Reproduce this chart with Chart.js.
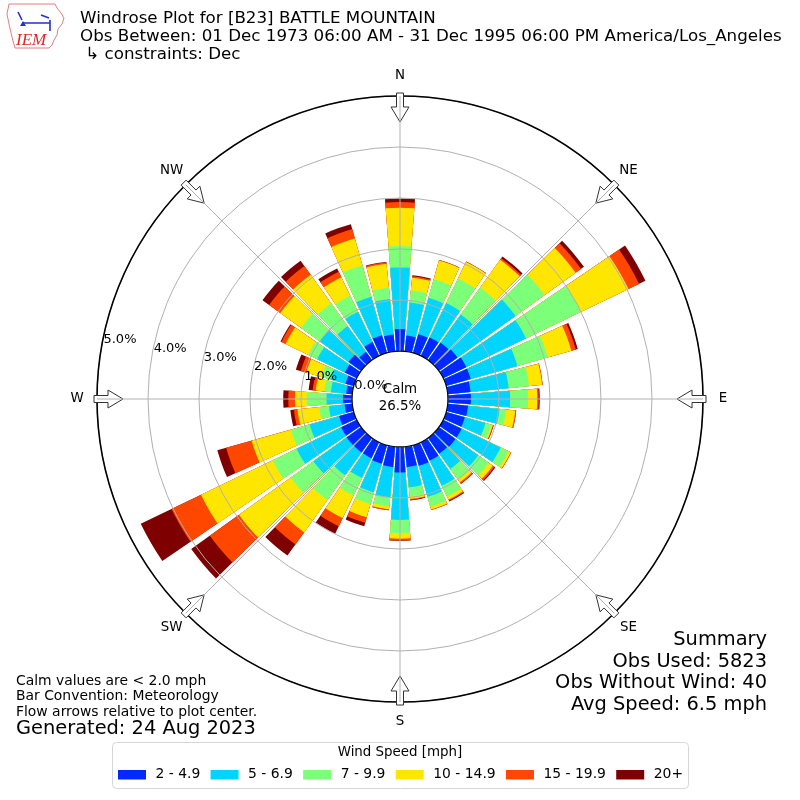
<!DOCTYPE html>
<html>
<head>
<meta charset="utf-8">
<script src="https://cdn.jsdelivr.net/npm/chart.js@4.4.0/dist/chart.umd.min.js"></script>
<style>
  html, body { margin: 0; padding: 0; background: #fff; }
  #wrap { width: 800px; height: 800px; position: relative; }
</style>
</head>
<body>
<div id="wrap"><canvas id="rose" width="800" height="800"></canvas></div>
<script>
// direction of each bar, degrees clockwise from north
const directions = [0, 10, 20, 30, 40, 50, 60, 70, 80, 90, 100, 110, 120, 130, 140, 150, 160, 170,
  180, 190, 200, 210, 220, 230, 240, 250, 260, 270, 280, 290, 300, 310, 320, 330, 340, 350];

const speedBins = ['2 - 4.9', '5 - 6.9', '7 - 9.9', '10 - 14.9', '15 - 19.9', '20+'];
const binColors = ['#0028ff', '#00d4ff', '#7cff79', '#ffe600', '#ff4700', '#7f0000'];

// frequency (%) per direction, one list per speed bin
const freq2to5 = [0.43, 0.31, 0.38, 0.40, 0.42, 0.45, 0.50, 0.50, 0.45, 0.45, 0.40, 0.38,
  0.40, 0.40, 0.38, 0.40, 0.42, 0.40, 0.50, 0.40, 0.38, 0.35, 0.35, 0.35,
  0.34, 0.30, 0.15, 0.18, 0.12, 0.17, 0.26, 0.30, 0.20, 0.30, 0.36, 0.33];
const freq5to7 = [1.21, 0.65, 0.74, 0.75, 0.68, 1.40, 1.30, 0.95, 0.75, 0.77, 0.62, 0.42,
  0.85, 0.55, 0.37, 0.55, 0.63, 0.40, 0.93, 0.60, 0.58, 0.43, 0.55, 0.80,
  0.97, 0.60, 0.31, 0.32, 0.30, 0.31, 0.60, 0.70, 0.62, 0.66, 0.78, 0.70];
const freq7to10 = [0.42, 0.24, 0.38, 0.53, 0.65, 0.70, 1.20, 0.62, 0.40, 0.35, 0.13, 0.12,
  0.17, 0.25, 0.25, 0.23, 0.20, 0.18, 0.26, 0.17, 0.24, 0.38, 0.60, 0.55,
  0.52, 0.38, 0.19, 0.39, 0.13, 0.18, 0.20, 0.45, 0.55, 0.35, 0.64, 0.22];
const freq10to15 = [0.75, 0.25, 0.38, 0.36, 0.67, 0.75, 1.03, 0.48, 0.26, 0.18, 0.18, 0.03,
  0.05, 0.10, 0.07, 0.07, 0.06, 0.05, 0.11, 0.06, 0.27, 0.49, 0.78, 1.25,
  1.56, 0.80, 0.43, 0.23, 0.17, 0.31, 0.49, 0.50, 0.69, 0.40, 0.55, 0.47];
const freq15to20 = [0.11, 0.03, 0.01, 0.01, 0.04, 0.13, 0.23, 0.09, 0.01, 0.03, 0.02, 0.01,
  0.01, 0.04, 0.03, 0.02, 0.01, 0.02, 0.03, 0.02, 0.11, 0.18, 0.29, 0.70,
  0.64, 0.52, 0.07, 0.13, 0.06, 0.11, 0.09, 0.27, 0.21, 0.12, 0.19, 0.03];
const freq20plus = [0.07, 0.02, 0.00, 0.00, 0.04, 0.07, 0.14, 0.04, 0.00, 0.02, 0.00, 0.01,
  0.00, 0.02, 0.01, 0.02, 0.00, 0.01, 0.01, 0.00, 0.07, 0.16, 0.27, 0.45,
  0.67, 0.18, 0.07, 0.10, 0.08, 0.10, 0.02, 0.16, 0.13, 0.07, 0.10, 0.01];

const rTicks = [0, 1, 2, 3, 4, 5];
const compassNames = ['N', 'NE', 'E', 'SE', 'S', 'SW', 'W', 'NW'];
const calmPct = '26.5%';

const titleLines = [
  'Windrose Plot for [B23] BATTLE MOUNTAIN',
  'Obs Between: 01 Dec 1973 06:00 AM - 31 Dec 1995 06:00 PM America/Los_Angeles',
  ' \u21b3 constraints: Dec'
];
const noteLines = ['Calm values are < 2.0 mph', 'Bar Convention: Meteorology', 'Flow arrows relative to plot center.'];
const generatedLine = 'Generated: 24 Aug 2023';
const summaryLines = ['Summary', 'Obs Used: 5823', 'Obs Without Wind: 40', 'Avg Speed: 6.5 mph'];

const BAR_DEG = 8.6;            // angular width of a bar, the rest of the 10 degrees is gap
const R_MIN = -0.94;            // leaves room for the calm circle inside 0%
const FONT = '"DejaVu Sans", sans-serif';

// stacked totals: each speed bin is drawn as an arc reaching the running sum
const binFreqs = [freq2to5, freq5to7, freq7to10, freq10to15, freq15to20, freq20plus];
const stacked = binFreqs.map((_, b) => directions.map((_, d) => {
  let s = 0;
  for (let k = 0; k <= b; k++) s += binFreqs[k][d];
  return s;
}));

// every direction gets a bar slot and a thin empty gap slot after it
const slotLabels = [];
directions.forEach(d => { slotLabels.push(d + '°'); slotLabels.push(''); });

const datasets = speedBins.map((name, b) => ({
  label: name,
  data: stacked[b].flatMap(v => [v, 0]),
  backgroundColor: c => (c.dataIndex % 2 ? 'rgba(0,0,0,0)' : binColors[b]),
  borderWidth: 0,
  angle: c => (c.dataIndex % 2 ? 10 - BAR_DEG : BAR_DEG)
}));

function drawLogo(ctx) {
  ctx.save();
  const outline = [[9, 4], [55, 4], [57, 8], [61, 13], [64, 18], [62, 24], [58, 29], [57, 35],
    [54, 40], [52, 45], [49, 48], [15, 48], [13, 41], [11, 33], [9, 24], [7, 14]];
  ctx.beginPath();
  outline.forEach(([x, y], i) => (i ? ctx.lineTo(x, y) : ctx.moveTo(x, y)));
  ctx.closePath();
  ctx.strokeStyle = '#e08080';
  ctx.lineWidth = 1;
  ctx.stroke();
  ctx.strokeStyle = '#2233cc';
  ctx.fillStyle = '#2233cc';
  ctx.lineWidth = 1.6;
  ctx.beginPath();
  ctx.moveTo(18, 12); ctx.lineTo(22, 20);
  ctx.moveTo(22, 23); ctx.lineTo(50, 23);
  ctx.moveTo(50, 20); ctx.lineTo(50, 31);
  ctx.moveTo(41, 15); ctx.lineTo(49, 18);
  ctx.stroke();
  ctx.beginPath();
  ctx.moveTo(20, 26); ctx.lineTo(23, 21); ctx.lineTo(26, 26); ctx.closePath();
  ctx.fill();
  ctx.fillStyle = '#d42a2a';
  ctx.font = 'italic 17px "Liberation Serif", serif';
  ctx.textAlign = 'left';
  ctx.textBaseline = 'alphabetic';
  ctx.fillText('IEM', 16, 45);
  ctx.restore();
}

const windroseDecor = {
  id: 'windroseDecor',
  afterDraw(chart) {
    const ctx = chart.ctx;
    const r = chart.scales.r;
    const cx = r.xCenter, cy = r.yCenter;
    const r0 = r.getDistanceFromCenterForValue(0);
    const rOut = r.drawingArea;
    const pt = (deg, d) => [cx + d * Math.sin(deg * Math.PI / 180), cy - d * Math.cos(deg * Math.PI / 180)];

    ctx.save();
    // outer frame
    ctx.beginPath();
    ctx.arc(cx, cy, rOut, 0, Math.PI * 2);
    ctx.strokeStyle = '#000';
    ctx.lineWidth = 1.6;
    ctx.stroke();

    // flow arrows on the frame, pointing to the centre
    compassNames.forEach((_, i) => {
      const deg = i * 45;
      const ux = Math.sin(deg * Math.PI / 180), uy = -Math.cos(deg * Math.PI / 180);
      const px = -uy, py = ux;
      const P = (d, w) => [cx + ux * d + px * w, cy + uy * d + py * w];
      const tail = rOut + 3, neck = rOut - 11, tip = rOut - 26;
      const poly = [P(tail, -3.5), P(tail, 3.5), P(neck, 3.5), P(neck, 9), P(tip, 0), P(neck, -9), P(neck, -3.5)];
      ctx.beginPath();
      poly.forEach(([x, y], k) => (k ? ctx.lineTo(x, y) : ctx.moveTo(x, y)));
      ctx.closePath();
      ctx.fillStyle = '#fff';
      ctx.fill();
      ctx.strokeStyle = '#333';
      ctx.lineWidth = 1;
      ctx.stroke();
    });

    // spokes every 45 degrees
    ctx.strokeStyle = '#b0b0b0';
    ctx.lineWidth = 1;
    compassNames.forEach((_, i) => {
      const a = pt(i * 45, r0), b = pt(i * 45, rOut);
      ctx.beginPath();
      ctx.moveTo(a[0], a[1]);
      ctx.lineTo(b[0], b[1]);
      ctx.stroke();
    });

    // calm circle
    ctx.beginPath();
    ctx.arc(cx, cy, r0, 0, Math.PI * 2);
    ctx.fillStyle = '#fff';
    ctx.fill();
    ctx.strokeStyle = '#000';
    ctx.lineWidth = 1.2;
    ctx.stroke();

    ctx.fillStyle = '#000';
    ctx.textAlign = 'center';
    ctx.textBaseline = 'middle';
    ctx.font = '13.4px ' + FONT;
    ctx.fillText('Calm', cx, cy - 9);
    ctx.fillText(calmPct, cx, cy + 8);

    // radial labels, laid along a line just above west
    ctx.font = '13px ' + FONT;
    const la = 10.4 * Math.PI / 180;
    rTicks.forEach(v => {
      const d = r.getDistanceFromCenterForValue(v);
      ctx.fillText(v.toFixed(1) + '%', cx - d * Math.cos(la) + 18, cy - d * Math.sin(la) - 5);
    });

    // compass names
    ctx.font = '13.4px ' + FONT;
    compassNames.forEach((name, i) => {
      const p = pt(i * 45, rOut + 20);
      ctx.fillText(name, p[0], p[1]);
    });

    // title block
    drawLogo(ctx);
    ctx.fillStyle = '#000';
    ctx.textAlign = 'left';
    ctx.textBaseline = 'middle';
    ctx.font = '16.7px ' + FONT;
    titleLines.forEach((t, i) => ctx.fillText(t, 80, 19 + i * 18));

    // notes, lower left
    ctx.font = '13.9px ' + FONT;
    noteLines.forEach((t, i) => ctx.fillText(t, 16, 681 + i * 15.5));
    ctx.font = '19.4px ' + FONT;
    ctx.fillText(generatedLine, 16, 729);

    // summary, lower right
    ctx.textAlign = 'right';
    summaryLines.forEach((t, i) => ctx.fillText(t, 767, 640 + i * 21.6));

    // legend box
    ctx.beginPath();
    ctx.roundRect(112.5, 742.5, 576, 46, 4);
    ctx.fillStyle = 'rgba(255,255,255,0.8)';
    ctx.fill();
    ctx.strokeStyle = '#d6d6d6';
    ctx.lineWidth = 1;
    ctx.stroke();
    ctx.fillStyle = '#000';
    ctx.textAlign = 'center';
    ctx.font = '13.4px ' + FONT;
    ctx.fillText('Wind Speed [mph]', 400, 753);
    ctx.textAlign = 'left';
    ctx.font = '13.9px ' + FONT;
    let x = 118;
    speedBins.forEach((name, b) => {
      ctx.fillStyle = binColors[b];
      ctx.fillRect(x, 770, 28, 9.5);
      ctx.fillStyle = '#000';
      ctx.fillText(name, x + 37.5, 774.5);
      x += 37.5 + ctx.measureText(name).width + 10.3;
    });
    ctx.restore();
  }
};

Chart.defaults.font.family = FONT;

new Chart(document.getElementById('rose'), {
  type: 'polarArea',
  data: { labels: slotLabels, datasets },
  options: {
    responsive: false,
    animation: false,
    events: [],
    layout: { padding: { left: 97, right: 97, top: 96, bottom: 98 } },
    plugins: {
      legend: { display: false },
      tooltip: { enabled: false }
    },
    scales: {
      r: {
        min: R_MIN,
        max: 5,
        startAngle: -BAR_DEG / 2,
        ticks: { display: false },
        grid: { color: '#b0b0b0', lineWidth: 1, circular: true, z: 1 },
        angleLines: { display: false },
        pointLabels: { display: false },
        afterBuildTicks: axis => { axis.ticks = rTicks.map(v => ({ value: v })); }
      }
    }
  },
  plugins: [windroseDecor]
});
</script>
</body>
</html>
